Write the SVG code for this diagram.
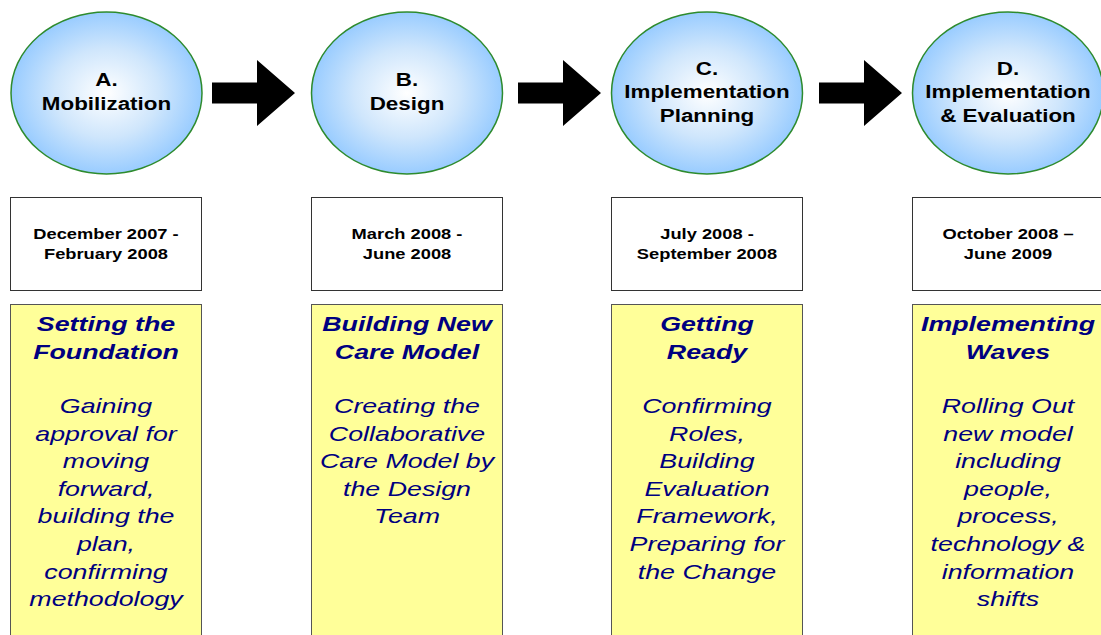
<svg xmlns="http://www.w3.org/2000/svg" width="1101" height="635" viewBox="0 0 1101 635">
  <defs>
    <radialGradient id="phaseFill" cx="50%" cy="50%" r="50%">
      <stop offset="0" stop-color="#ffffff"/>
      <stop offset="0.55" stop-color="#cfe6fc"/>
      <stop offset="1" stop-color="#99ccff"/>
    </radialGradient>
    <path id="bigArrow" d="M0,-10.5 H45 V-33 L83,0 L45,33 V10.5 H0 Z"/>
  </defs>
  <style>
    .phase { fill: url(#phaseFill); stroke: #2e8b2e; stroke-width: 1.5; }
    .phase-label { font-family: "Liberation Sans", Arial, sans-serif; font-weight: bold; font-size: 17.5px; fill: #000; text-anchor: middle; }
    .date-box { fill: #ffffff; stroke: #333333; stroke-width: 1; }
    .date-label { font-family: "Liberation Sans", Arial, sans-serif; font-weight: bold; font-size: 15px; fill: #000; text-anchor: middle; }
    .note-box { fill: #ffff99; stroke: #555555; stroke-width: 1; }
    .note-text { font-family: "Liberation Sans", Arial, sans-serif; font-style: italic; font-size: 20px; fill: #000080; text-anchor: middle; }
    .note-title { font-weight: bold; }
    .flow { fill: #000000; }
  </style>

  <rect width="1101" height="635" fill="#ffffff"/>

  <!-- connectors between phases -->
  <g id="connectors">
    <use href="#bigArrow" class="flow" x="212" y="93"/>
    <use href="#bigArrow" class="flow" x="518" y="93"/>
    <use href="#bigArrow" class="flow" x="819" y="93"/>
  </g>

  <!-- Phase A -->
  <g id="phase-a">
    <ellipse class="phase" cx="106.5" cy="93" rx="95.5" ry="81"/>
    <text class="phase-label" transform="translate(106.5 0) scale(1.28 1)"><tspan x="0" y="86">A.</tspan><tspan x="0" y="110">Mobilization</tspan></text>
    <rect class="date-box" x="10.5" y="197.5" width="191" height="93"/>
    <text class="date-label" transform="translate(106 0) scale(1.22 1)"><tspan x="0" y="239">December 2007 -</tspan><tspan x="0" y="259">February 2008</tspan></text>
    <rect class="note-box" x="10.5" y="304.5" width="191" height="340"/>
    <text class="note-text" transform="translate(106 0) scale(1.34 1)"><tspan class="note-title" x="0" y="331">Setting the</tspan><tspan class="note-title" x="0" y="358.6">Foundation</tspan><tspan x="0" y="413">Gaining</tspan><tspan x="0" y="440.6">approval for</tspan><tspan x="0" y="468.2">moving</tspan><tspan x="0" y="495.8">forward,</tspan><tspan x="0" y="523.4">building the</tspan><tspan x="0" y="551">plan,</tspan><tspan x="0" y="578.6">confirming</tspan><tspan x="0" y="606.2">methodology</tspan></text>
  </g>

  <!-- Phase B -->
  <g id="phase-b">
    <ellipse class="phase" cx="407" cy="93" rx="95.5" ry="81"/>
    <text class="phase-label" transform="translate(407 0) scale(1.28 1)"><tspan x="0" y="86">B.</tspan><tspan x="0" y="110">Design</tspan></text>
    <rect class="date-box" x="311.5" y="197.5" width="191" height="93"/>
    <text class="date-label" transform="translate(407 0) scale(1.22 1)"><tspan x="0" y="239">March 2008 -</tspan><tspan x="0" y="259">June 2008</tspan></text>
    <rect class="note-box" x="311.5" y="304.5" width="191" height="340"/>
    <text class="note-text" transform="translate(407 0) scale(1.34 1)"><tspan class="note-title" x="0" y="331">Building New</tspan><tspan class="note-title" x="0" y="358.6">Care Model</tspan><tspan x="0" y="413">Creating the</tspan><tspan x="0" y="440.6">Collaborative</tspan><tspan x="0" y="468.2">Care Model by</tspan><tspan x="0" y="495.8">the Design</tspan><tspan x="0" y="523.4">Team</tspan></text>
  </g>

  <!-- Phase C -->
  <g id="phase-c">
    <ellipse class="phase" cx="707" cy="93" rx="95.5" ry="81"/>
    <text class="phase-label" transform="translate(707 0) scale(1.28 1)"><tspan x="0" y="75">C.</tspan><tspan x="0" y="98.5">Implementation</tspan><tspan x="0" y="122">Planning</tspan></text>
    <rect class="date-box" x="611.5" y="197.5" width="191" height="93"/>
    <text class="date-label" transform="translate(707 0) scale(1.22 1)"><tspan x="0" y="239">July 2008 -</tspan><tspan x="0" y="259">September 2008</tspan></text>
    <rect class="note-box" x="611.5" y="304.5" width="191" height="340"/>
    <text class="note-text" transform="translate(707 0) scale(1.34 1)"><tspan class="note-title" x="0" y="331">Getting</tspan><tspan class="note-title" x="0" y="358.6">Ready</tspan><tspan x="0" y="413">Confirming</tspan><tspan x="0" y="440.6">Roles,</tspan><tspan x="0" y="468.2">Building</tspan><tspan x="0" y="495.8">Evaluation</tspan><tspan x="0" y="523.4">Framework,</tspan><tspan x="0" y="551">Preparing for</tspan><tspan x="0" y="578.6">the Change</tspan></text>
  </g>

  <!-- Phase D -->
  <g id="phase-d">
    <ellipse class="phase" cx="1008" cy="93" rx="95.5" ry="81"/>
    <text class="phase-label" transform="translate(1008 0) scale(1.28 1)"><tspan x="0" y="75">D.</tspan><tspan x="0" y="98.5">Implementation</tspan><tspan x="0" y="122">&amp; Evaluation</tspan></text>
    <rect class="date-box" x="912.5" y="197.5" width="191" height="93"/>
    <text class="date-label" transform="translate(1008 0) scale(1.22 1)"><tspan x="0" y="239">October 2008 –</tspan><tspan x="0" y="259">June 2009</tspan></text>
    <rect class="note-box" x="912.5" y="304.5" width="191" height="340"/>
    <text class="note-text" transform="translate(1008 0) scale(1.34 1)"><tspan class="note-title" x="0" y="331">Implementing</tspan><tspan class="note-title" x="0" y="358.6">Waves</tspan><tspan x="0" y="413">Rolling Out</tspan><tspan x="0" y="440.6">new model</tspan><tspan x="0" y="468.2">including</tspan><tspan x="0" y="495.8">people,</tspan><tspan x="0" y="523.4">process,</tspan><tspan x="0" y="551">technology &amp;</tspan><tspan x="0" y="578.6">information</tspan><tspan x="0" y="606.2">shifts</tspan></text>
  </g>
</svg>
